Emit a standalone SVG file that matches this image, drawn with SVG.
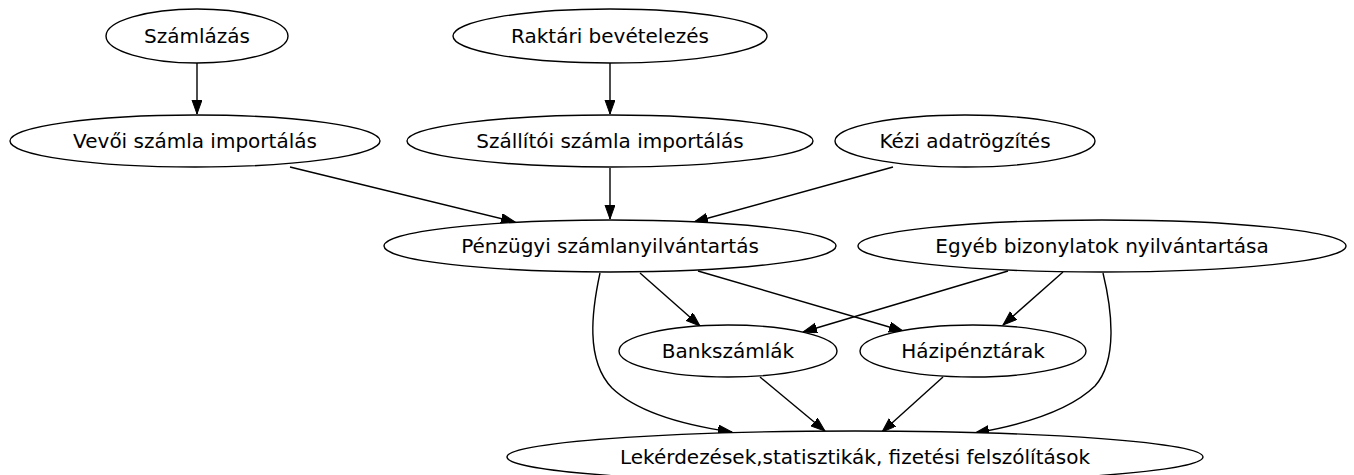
<svg xmlns="http://www.w3.org/2000/svg" width="1354" height="475" viewBox="0 0 1354 475">
<defs>
<marker id="arr" markerUnits="userSpaceOnUse" markerWidth="15" markerHeight="11" refX="14" refY="5" orient="auto">
<path d="M0,0 L14,5 L0,10 z" fill="#000" stroke="#000" stroke-width="1"/>
</marker>
</defs>
<style>
.n ellipse{fill:#fff;stroke:#000;stroke-width:1.4}
.n text{font-family:"DejaVu Sans",sans-serif;font-size:20px;text-anchor:middle;fill:#000}
.e path{fill:none;stroke:#000;stroke-width:1.4;marker-end:url(#arr)}
</style>
<rect width="1354" height="475" fill="#fff"/>
<g id="edges" class="e">
<path d="M197,63 L197,114"/>
<path d="M610,63 L610,114"/>
<path d="M290,167 L515,222"/>
<path d="M610,168 L610,219"/>
<path d="M893,167 L694,222"/>
<path d="M640,273 L700,326"/>
<path d="M698,271 L903,331"/>
<path d="M1008,271 L803,332"/>
<path d="M1063,272 L1003,325"/>
<path d="M600,273 C592,310 585,360 612,388 C640,415 690,426 732,432"/>
<path d="M1103,273 C1112,310 1118,360 1095,386 C1065,415 1010,427 975,433"/>
<path d="M760,377 L825,431"/>
<path d="M943,377 L882,432"/>
</g>
<g id="n1" class="n"><ellipse cx="197" cy="36" rx="91" ry="27"/><text x="197" y="43">Számlázás</text></g>
<g id="n2" class="n"><ellipse cx="610" cy="36" rx="157" ry="27"/><text x="610" y="43">Raktári bevételezés</text></g>
<g id="n3" class="n"><ellipse cx="195" cy="141" rx="185" ry="26"/><text x="195" y="148">Vevői számla importálás</text></g>
<g id="n4" class="n"><ellipse cx="610" cy="141" rx="203" ry="26"/><text x="610" y="148">Szállítói számla importálás</text></g>
<g id="n5" class="n"><ellipse cx="965" cy="141" rx="130" ry="26"/><text x="965" y="148">Kézi adatrögzítés</text></g>
<g id="n6" class="n"><ellipse cx="610" cy="246" rx="226" ry="26"/><text x="610" y="253">Pénzügyi számlanyilvántartás</text></g>
<g id="n7" class="n"><ellipse cx="1102" cy="246" rx="244" ry="26"/><text x="1102" y="253">Egyéb bizonylatok nyilvántartása</text></g>
<g id="n8" class="n"><ellipse cx="728" cy="351" rx="109" ry="26"/><text x="728" y="358">Bankszámlák</text></g>
<g id="n9" class="n"><ellipse cx="973" cy="351" rx="113" ry="26"/><text x="973" y="358">Házipénztárak</text></g>
<g id="n10" class="n"><ellipse cx="855" cy="457" rx="348" ry="26"/><text x="855" y="464">Lekérdezések,statisztikák, fizetési felszólítások</text></g>
</svg>
